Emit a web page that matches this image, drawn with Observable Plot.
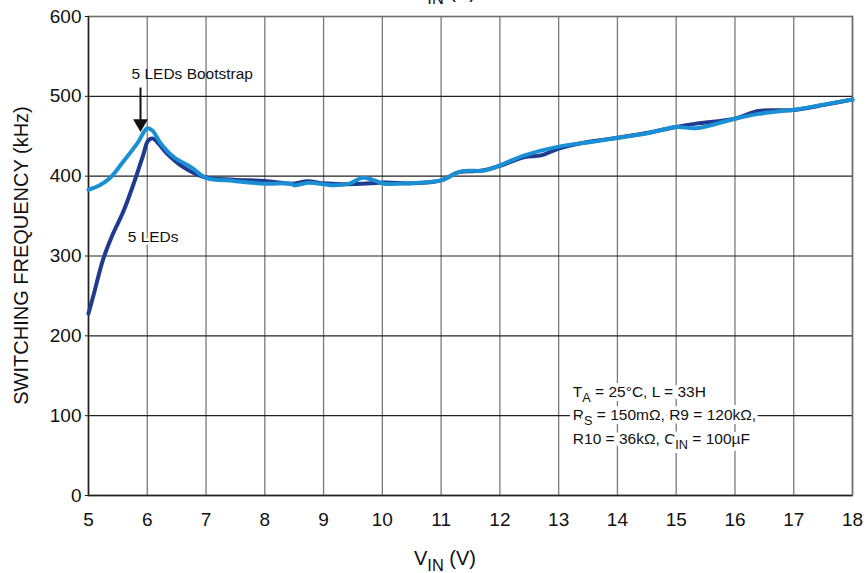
<!DOCTYPE html>
<html>
<head>
<meta charset="utf-8">
<script src="https://cdn.jsdelivr.net/npm/d3@7"></script>
<script src="https://cdn.jsdelivr.net/npm/@observablehq/plot@0.6"></script>
<style>
  html, body { margin: 0; padding: 0; background: white; }
  #chart svg { display: block; overflow: visible; }
</style>
</head>
<body>
<div id="chart"></div>
<script>
// ---- data ----
const xTicks = [5, 6, 7, 8, 9, 10, 11, 12, 13, 14, 15, 16, 17, 18];
const yTicks = [0, 100, 200, 300, 400, 500, 600];

// 5 LEDs (dark)
const ledsV = [5.0, 5.1, 5.25, 5.4, 5.6, 5.77, 5.92, 6.02, 6.1, 6.2, 6.34, 6.6, 6.96, 7.47, 8.0, 8.45, 8.73, 9.0, 9.3, 9.66, 10.03, 10.5, 11.0, 11.3, 11.7, 12.0, 12.42, 12.7, 13.0, 13.33, 14.0, 14.5, 15.0, 15.34, 16.0, 16.4, 17.0, 17.5, 18.0];
const ledsF = [228, 255, 296, 325, 357, 391, 424, 445, 447, 440, 428, 412, 399, 395.6, 394, 390.6, 393.6, 391, 390, 390.6, 392, 391, 394.7, 405, 407, 413, 424, 426, 434.5, 440.7, 448, 454, 461.6, 465.8, 472, 481.6, 483, 489, 496];

// 5 LEDs Bootstrap (light)
const bootV = [5.0, 5.2, 5.37, 5.6, 5.83, 6.0, 6.09, 6.23, 6.45, 6.75, 7.0, 7.47, 8.0, 8.45, 8.5, 8.73, 9.0, 9.17, 9.45, 9.66, 9.85, 10.03, 10.5, 11.0, 11.34, 11.74, 12.0, 12.42, 13.0, 13.55, 14.0, 14.53, 15.0, 15.34, 16.0, 16.4, 17.0, 17.5, 18.0];
const bootF = [383, 389, 398, 419, 441, 460, 457, 441, 424, 411, 398, 394, 390.6, 390.6, 388.5, 391.6, 390, 388.5, 391, 398, 395, 390.6, 391.5, 394.7, 406, 407, 413.5, 426, 437, 442.7, 448, 454, 461.6, 460, 472, 478, 483.3, 489.5, 496];

const seriesNames = ["5 LEDs", "5 LEDs Bootstrap"];
const xLabel = [["V", ""], ["IN", "sub"], [" (V)", ""]];
const yLabel = "SWITCHING FREQUENCY (kHz)";
const conditions = [
  [["T", ""], ["A", "sub"], [" = 25°C, L = 33H", ""]],
  [["R", ""], ["S", "sub"], [" = 150mΩ, R9 = 120kΩ,", ""]],
  [["R10 = 36kΩ, C", ""], ["IN", "sub"], [" = 100µF", ""]]
];

// ---- tables ----
const leds = ledsV.map((v, i) => ({v, f: ledsF[i]}));
const boot = bootV.map((v, i) => ({v, f: bootF[i]}));

const FONT = "'Liberation Sans', Arial, sans-serif";

const plot = Plot.plot({
  width: 868,
  height: 573,
  marginLeft: 88,
  marginRight: 16,
  marginTop: 16,
  marginBottom: 78,
  style: {fontFamily: FONT, fontSize: "19px", color: "#111", background: "white"},
  x: {domain: [5, 18], ticks: xTicks, tickSize: 0, tickPadding: 17, label: null},
  y: {domain: [0, 600], ticks: yTicks, tickSize: 3, tickPadding: 4, label: null},
  marks: [
    Plot.ruleX(xTicks, {stroke: "#7a7a7a", strokeWidth: 1.3}),
    Plot.ruleY(yTicks, {stroke: "#222", strokeWidth: 1.1}),
    Plot.frame({stroke: "#6e6e6e", strokeWidth: 1.6}),
    Plot.ruleX([5], {stroke: "#222", strokeWidth: 1.3}),
    Plot.ruleY([0], {stroke: "#222", strokeWidth: 1.3}),
    Plot.line(leds, {x: "v", y: "f", stroke: "#1f3b8f", strokeWidth: 4, curve: "catmull-rom"}),
    Plot.line(boot, {x: "v", y: "f", stroke: "#1a8fd3", strokeWidth: 4, curve: "catmull-rom"}),
    // annotations
    Plot.text([seriesNames[1]], {x: 6.765, y: 528, text: d => d, fontSize: 15.5, fill: "#111"}),
    Plot.text([seriesNames[0]], {x: 6.1, y: 324, text: d => d, fontSize: 15.5, fill: "#111", stroke: "white", strokeWidth: 5}),
    Plot.link([0], {x1: 5.885, y1: 511, x2: 5.885, y2: 470, stroke: "#111", strokeWidth: 2}),
    Plot.dot([0], {x: 5.885, y: 466, symbol: "triangle", rotate: 180, r: 5.5, fill: "#111", stroke: "none"})
  ]
});

document.getElementById("chart").appendChild(plot);

// subscripted labels drawn with real text, positioned by the plot's scales
const sx = plot.scale("x"), sy = plot.scale("y");
const px = v => sx.range[0] + (v - sx.domain[0]) / (sx.domain[1] - sx.domain[0]) * (sx.range[1] - sx.range[0]);
const py = v => sy.range[0] + (v - sy.domain[0]) / (sy.domain[1] - sy.domain[0]) * (sy.range[1] - sy.range[0]);
const svg = d3.select(plot);

function richText(g, parts, size, halo, anchor) {
  const t = g.append("text").attr("font-family", FONT).attr("font-size", size).attr("fill", "#111")
    .attr("text-anchor", anchor);
  if (halo) t.attr("stroke", "white").attr("stroke-width", 8).attr("paint-order", "stroke").attr("stroke-linejoin", "round");
  let prevSub = false;
  parts.forEach(([s, kind]) => {
    const sub = kind === "sub";
    const span = t.append("tspan").text(s);
    if (sub) span.attr("font-size", size * 0.82);
    if (sub !== prevSub) span.attr("dy", sub ? size * 0.3 : -size * 0.3);
    prevSub = sub;
  });
  return t;
}

// x axis label (bottom) and its clipped copy at the top
const midX = (sx.range[0] + sx.range[1]) / 2 - 25;
richText(svg, xLabel, 20, false, "middle").attr("x", midX).attr("y", 565);
richText(svg, xLabel, 20, false, "middle").attr("x", midX).attr("y", -2);

// y axis label
svg.append("text")
  .attr("font-family", FONT).attr("font-size", 20).attr("fill", "#111")
  .attr("text-anchor", "middle")
  .attr("transform", `translate(28,${(sy.range[0] + sy.range[1]) / 2}) rotate(-90)`)
  .text(yLabel);

// conditions box
const condY = [129, 100, 70];
conditions.forEach((parts, i) => {
  richText(svg, parts, 15.5, true, "start").attr("x", px(13.25)).attr("y", py(condY[i]) + 5);
});
</script>
</body>
</html>
